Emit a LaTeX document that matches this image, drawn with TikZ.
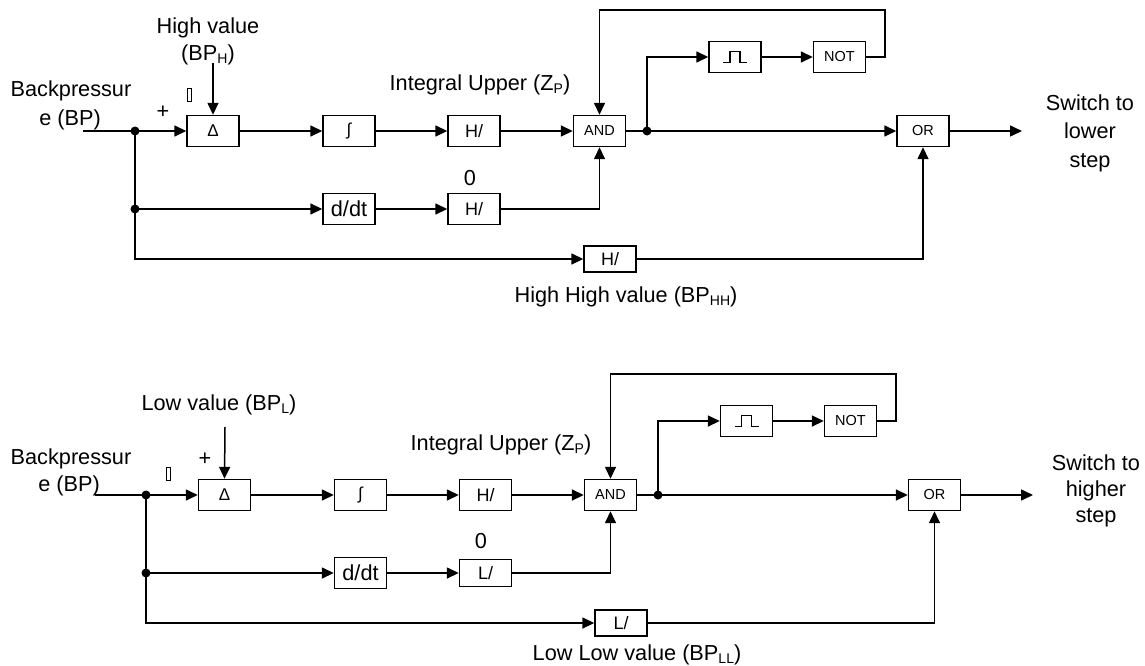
\documentclass[tikz,border=0pt]{standalone}
\usepackage{fontspec}
\setmainfont{Liberation Sans}
\usetikzlibrary{arrows.meta}
\newcommand\sbx[1]{\raisebox{-3pt}{\fontsize{14}{14}\selectfont #1}}
\begin{document}
\begin{tikzpicture}[x=1pt,y=-1pt,
  ln/.style={line width=1.5pt},
  arr/.style={ln,-{Triangle[length=12pt,width=11pt]}},
  blk/.style={draw,line width=1.4pt,minimum width=52pt,minimum height=31pt,inner sep=0pt,
    font=\fontsize{18}{18}\selectfont},
  gate/.style={blk,font=\fontsize{14.5}{14.5}\selectfont},
  mathblk/.style={blk,font=\fontsize{17}{17}\selectfont},
  wide/.style={blk,font=\fontsize{21.7}{21.7}\selectfont},
  flat/.style={blk,minimum height=26pt},
  jdot/.style={circle,fill,minimum size=9pt,inner sep=0pt},
  lbl/.style={font=\fontsize{21.7}{26}\selectfont,inner sep=0pt,anchor=base},
  sign/.style={font=\fontsize{21.7}{26}\selectfont,inner sep=0pt},
  tofu/.style={draw,line width=0.9pt,minimum width=4pt,minimum height=13pt,inner sep=0pt},
  pulse/.style={line width=1.2pt}]
\useasboundingbox (0,0) rectangle (1145,666);

% ---------------- upper chain: switch to lower step ----------------
\coordinate (in1) at (83,131);
\node[jdot] (j1) at (135,131) {};
\node[mathblk] (delta1) at (213,131) {Δ};
\node[mathblk] (int1) at (349,131) {∫};
\node[blk] (h1) at (474,131) {H/};
\node[gate] (and1) at (599.5,131) {AND};
\node[jdot] (j2) at (647,131) {};
\node[gate] (or1) at (923,131) {OR};
\coordinate (out1) at (1022,131);
\node[blk] (pulse1) at (735,57) {};
\node[gate] (not1) at (839.5,57) {NOT};
\coordinate (fb1) at (885,10);
\node[jdot] (j3) at (135,209) {};
\node[wide] (ddt1) at (349,209) {d/dt};
\node[blk] (h2) at (474,209) {H/};
\node[flat] (h3) at (610,259) {H/};
\coordinate (hv1) at (213,63);

\node[lbl] (t1a) at (208,34) {High value};
\node[lbl] (t1b) at (208,61) {(BP\sbx{H})};
\node[lbl] (t1c) at (71,96.7) {Backpressur};
\node[lbl] (t1d) at (70,125) {e (BP)};
\node[sign] (p1) at (163,112) {+};
\node[tofu] (m1) at (189,95) {};
\node[lbl] (t1e) at (480,90.7) {Integral Upper (Z\sbx{P})};
\node[lbl] (t1f) at (470,185) {0};
\node[lbl] (t1g) at (626,302.7) {High High value (BP\sbx{HH})};
\node[lbl] (t1h) at (1090,111) {Switch to};
\node[lbl] (t1i) at (1090,139) {lower};
\node[lbl] (t1j) at (1090,167) {step};

\draw[pulse] ([shift={(-12,5.5)}]pulse1.center) -- ++(7,0) -- ++(0,-11) -- ++(10,0) -- ++(0,11) -- ++(7,0);

\draw[ln] (in1) -- (j1.center);
\draw[arr] (j1.center) -- (delta1);
\draw[arr] (hv1) -- (delta1.north);
\draw[arr] (delta1) -- (int1);
\draw[arr] (int1) -- (h1);
\draw[arr] (h1) -- (and1);
\draw[ln] (and1.east) -- (j2.center);
\draw[arr] (j2.center) -- (or1);
\draw[arr] (or1) -- (out1);
\draw[arr] (j2.center) |- (pulse1.west);
\draw[arr] (pulse1) -- (not1);
\draw[arr] (not1.east) -| (fb1) -| (and1.north);
\draw[arr] (j1.center) |- (h3.west);
\draw[arr] (j3.center) -- (ddt1);
\draw[arr] (ddt1) -- (h2);
\draw[arr] (h2.east) -| (and1.south);
\draw[arr] (h3.east) -| (or1.south);

% ---------------- lower chain: switch to higher step ----------------
\coordinate (in2) at (95,495);
\node[jdot] (j4) at (146,495) {};
\node[mathblk] (delta2) at (224.5,495) {Δ};
\node[mathblk] (int2) at (360.5,495) {∫};
\node[blk] (h4) at (485.5,495) {H/};
\node[gate] (and2) at (610.5,495) {AND};
\node[jdot] (j5) at (658,495) {};
\node[gate] (or2) at (934.5,495) {OR};
\coordinate (out2) at (1033,495);
\node[blk] (pulse2) at (746.5,421) {};
\node[gate] (not2) at (850.5,421) {NOT};
\coordinate (fb2) at (896,374);
\node[jdot] (j6) at (146,573) {};
\node[wide] (ddt2) at (360.5,573) {d/dt};
\node[blk,minimum height=27pt] (l1) at (485.5,573) {L/};
\node[flat] (l2) at (621,623) {L/};
\coordinate (lv1) at (225,427);

\node[lbl] (t2a) at (219,410.7) {Low value (BP\sbx{L})};
\node[lbl] (t2c) at (71,464) {Backpressur};
\node[lbl] (t2d) at (69,491.7) {e (BP)};
\node[sign] (p2) at (205,459) {+};
\node[tofu] (m2) at (168,474) {};
\node[lbl] (t2e) at (501,450.7) {Integral Upper (Z\sbx{P})};
\node[lbl] (t2f) at (481,548) {0};
\node[lbl] (t2g) at (637,660.7) {Low Low value (BP\sbx{LL})};
\node[lbl] (t2h) at (1096,470) {Switch to};
\node[lbl] (t2i) at (1096,496.5) {higher};
\node[lbl] (t2j) at (1096,522) {step};

\draw[pulse] ([shift={(-12,5.5)}]pulse2.center) -- ++(7,0) -- ++(0,-11) -- ++(10,0) -- ++(0,11) -- ++(7,0);

\draw[ln] (in2) -- (j4.center);
\draw[arr] (j4.center) -- (delta2);
\draw[arr] (lv1) -- (delta2.north);
\draw[arr] (delta2) -- (int2);
\draw[arr] (int2) -- (h4);
\draw[arr] (h4) -- (and2);
\draw[ln] (and2.east) -- (j5.center);
\draw[arr] (j5.center) -- (or2);
\draw[arr] (or2) -- (out2);
\draw[arr] (j5.center) |- (pulse2.west);
\draw[arr] (pulse2) -- (not2);
\draw[arr] (not2.east) -| (fb2) -| (and2.north);
\draw[arr] (j4.center) |- (l2.west);
\draw[arr] (j6.center) -- (ddt2);
\draw[arr] (ddt2) -- (l1);
\draw[arr] (l1.east) -| (and2.south);
\draw[arr] (l2.east) -| (or2.south);
\end{tikzpicture}
\end{document}
